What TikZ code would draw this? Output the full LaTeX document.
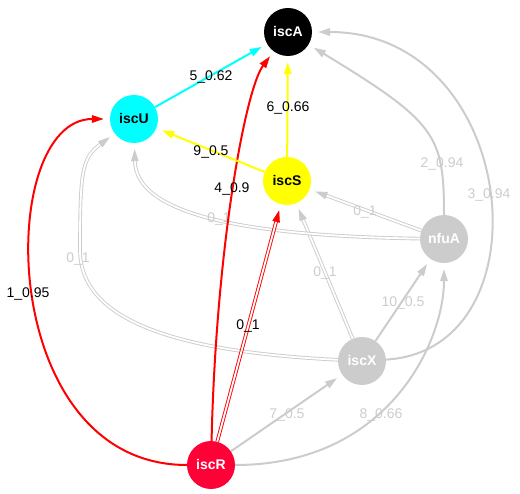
\documentclass[tikz,border=0pt]{standalone}
\usepackage{fontspec}
\setmainfont{Liberation Sans}
\usetikzlibrary{arrows.meta}
\definecolor{edgegray}{RGB}{204,204,204}
\definecolor{regred}{RGB}{255,0,55}
\definecolor{linkred}{RGB}{255,0,0}
\definecolor{linkcyan}{RGB}{0,255,255}
\definecolor{linkyellow}{RGB}{255,255,0}

\begin{document}
\begin{tikzpicture}[x=1pt, y=-1pt,
  gene/.style={circle, minimum size=48pt, inner sep=0pt,
    font=\fontsize{14}{14}\selectfont\bfseries, text height=10pt, text depth=0pt},
  wlabel/.style={inner sep=0pt, font=\fontsize{14}{14}\selectfont,
    text height=10pt, text depth=0pt},
  link/.style={line width=2pt, -{Triangle[length=12pt,width=7.5pt]}, shorten >=6pt},
  dlink/.style={double, line width=0.9pt, double distance=1.8pt,
    -{Triangle[length=12pt,width=7.5pt]}, shorten >=6pt}
]
  \useasboundingbox (0,0) rectangle (520,494);

  \node[gene, fill=black, text=white] (iscA) at (288,32) {iscA};
  \node[gene, fill=linkcyan] (iscU) at (134,119) {iscU};
  \node[gene, fill=linkyellow] (iscS) at (287,181) {iscS};
  \node[gene, fill=edgegray, text=white] (nfuA) at (444,239) {nfuA};
  \node[gene, fill=edgegray, text=white] (iscX) at (362,361) {iscX};
  \node[gene, fill=regred, text=white] (iscR) at (211,465) {iscR};

  % gray edges
  \draw[link, edgegray] (nfuA) .. controls (444,135) and (436,122) .. (iscA);
  \draw[link, edgegray] (iscX) .. controls (550,350) and (520,32) .. (iscA);
  \draw[link, edgegray] (iscR) -- (iscX);
  \draw[link, edgegray] (iscR) .. controls (390,465) and (444,340) .. (nfuA);
  \draw[link, edgegray] (iscX) -- (nfuA);
  \draw[dlink, edgegray] (nfuA) -- (iscS);
  \draw[dlink, edgegray] (iscX) -- (iscS);
  \draw[dlink, edgegray] (nfuA) .. controls (250,236) and (136,216) .. (iscU);
  \draw[dlink, edgegray] (iscX) .. controls (180,352) and (80,322) .. (80,250)
    .. controls (80,170) and (82,158) .. (iscU);

  \begin{scope}[text=edgegray]
    \node[wlabel] (w2) at (442,163) {2\_0.94};
    \node[wlabel] (w3) at (489,194) {3\_0.94};
    \node[wlabel] (w7) at (287,414) {7\_0.5};
    \node[wlabel] (w8) at (381,414) {8\_0.66};
    \node[wlabel] (w10) at (403,302) {10\_0.5};
    \node[wlabel] (z1) at (365,211) {0\_1};
    \node[wlabel] (z2) at (325,272) {0\_1};
    \node[wlabel] (z3) at (219,218) {0\_1};
    \node[wlabel] (z4) at (78,258) {0\_1};
  \end{scope}

  % coloured edges
  \draw[link, linkred] (iscR) .. controls (-5,465) and (-5,119) .. (iscU);
  \draw[link, linkred] (iscR) .. controls (216,250) and (245,90) .. (iscA);
  \draw[dlink, linkred] (iscR) -- (iscS);
  \draw[link, linkcyan] (iscU) -- (iscA);
  \draw[link, linkyellow] (iscS) -- (iscA);
  \draw[link, linkyellow] (iscS) -- (iscU);

  \node[wlabel] (w1) at (28,293) {1\_0.95};
  \node[wlabel] (w4) at (232,188) {4\_0.9};
  \node[wlabel] (w5) at (211,76) {5\_0.62};
  \node[wlabel] (w6) at (288,107) {6\_0.66};
  \node[wlabel] (w9) at (211,151) {9\_0.5};
  \node[wlabel] (z0) at (248,325) {0\_1};
\end{tikzpicture}
\end{document}
